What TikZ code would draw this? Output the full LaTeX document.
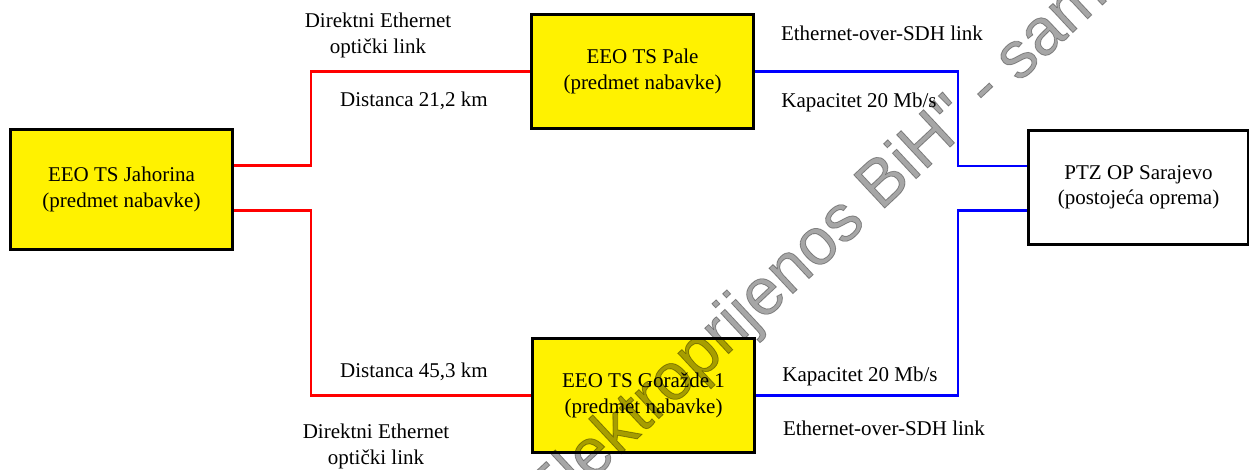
\documentclass[tikz,border=0pt]{standalone}
\usepackage{fontspec}
\setmainfont{Liberation Serif}
\newfontfamily\wmfont[FakeBold=1.2]{Liberation Sans}
\usetikzlibrary{calc}
\tikzset{
  box/.style={draw=black, line width=2.8pt, inner sep=0pt, align=center,
    minimum width=222pt, minimum height=114pt,
    font=\fontsize{21}{25.5}\selectfont},
  yellowbox/.style={box, fill=yellow},
  whitebox/.style={box, fill=white},
  lbl/.style={inner sep=0pt, align=center, font=\fontsize{21}{26}\selectfont},
  redline/.style={draw=red, line width=2.2pt},
  blueline/.style={draw=blue, line width=2.2pt},
  watermark/.style={text=black, text opacity=0.35, inner sep=0pt,
    font=\wmfont\fontsize{66}{66}\selectfont}
}
\begin{document}
\begin{tikzpicture}[x=1pt, y=-1pt]
\useasboundingbox (0,0) rectangle (1249,469);
\clip (0,0) rectangle (1249,469);
\fill[white] (0,0) rectangle (1249,469);

\node[yellowbox, minimum height=120pt] (jah) at (121.5,189.5) {EEO TS Jahorina\\(predmet nabavke)};
\node[yellowbox] (pale) at (642.5,71.5) {EEO TS Pale\\(predmet nabavke)};
\node[yellowbox] (gor) at (643.5,395.5) {EEO TS Goražde 1\\(predmet nabavke)};
\node[whitebox, minimum width=220pt] (sar) at (1138.5,187.5) {PTZ OP Sarajevo\\(postojeća oprema)};

\draw[redline] ([yshift=24pt]jah.east) -| (311,71.5) -- (pale.west);
\draw[redline] ([yshift=-21pt]jah.east) -| (311,395.5) -- (gor.west);
\draw[blueline] (pale.east) -| (958,166) -- (sar.west |- 958,166);
\draw[blueline] (gor.east) -| (958,210.5) -- (sar.west |- 958,210.5);

\node[lbl] (t1) at (378,35) {Direktni Ethernet\\optički link};
\node[lbl] (t2) at (414,101) {Distanca 21,2 km};
\node[lbl] (t3) at (882,33) {Ethernet-over-SDH link};
\node[lbl] (t4) at (859,102) {Kapacitet 20 Mb/s};
\node[lbl] (b2) at (414,372) {Distanca 45,3 km};
\node[lbl] (b1) at (376,446) {Direktni Ethernet\\optički link};
\node[lbl] (b4) at (860,376) {Kapacitet 20 Mb/s};
\node[lbl] (b3) at (884,428) {Ethernet-over-SDH link};

\node[watermark, anchor=base west, rotate=43] (wm) at (548,522) {Elektroprijenos BiH" - samo};
\end{tikzpicture}
\end{document}
